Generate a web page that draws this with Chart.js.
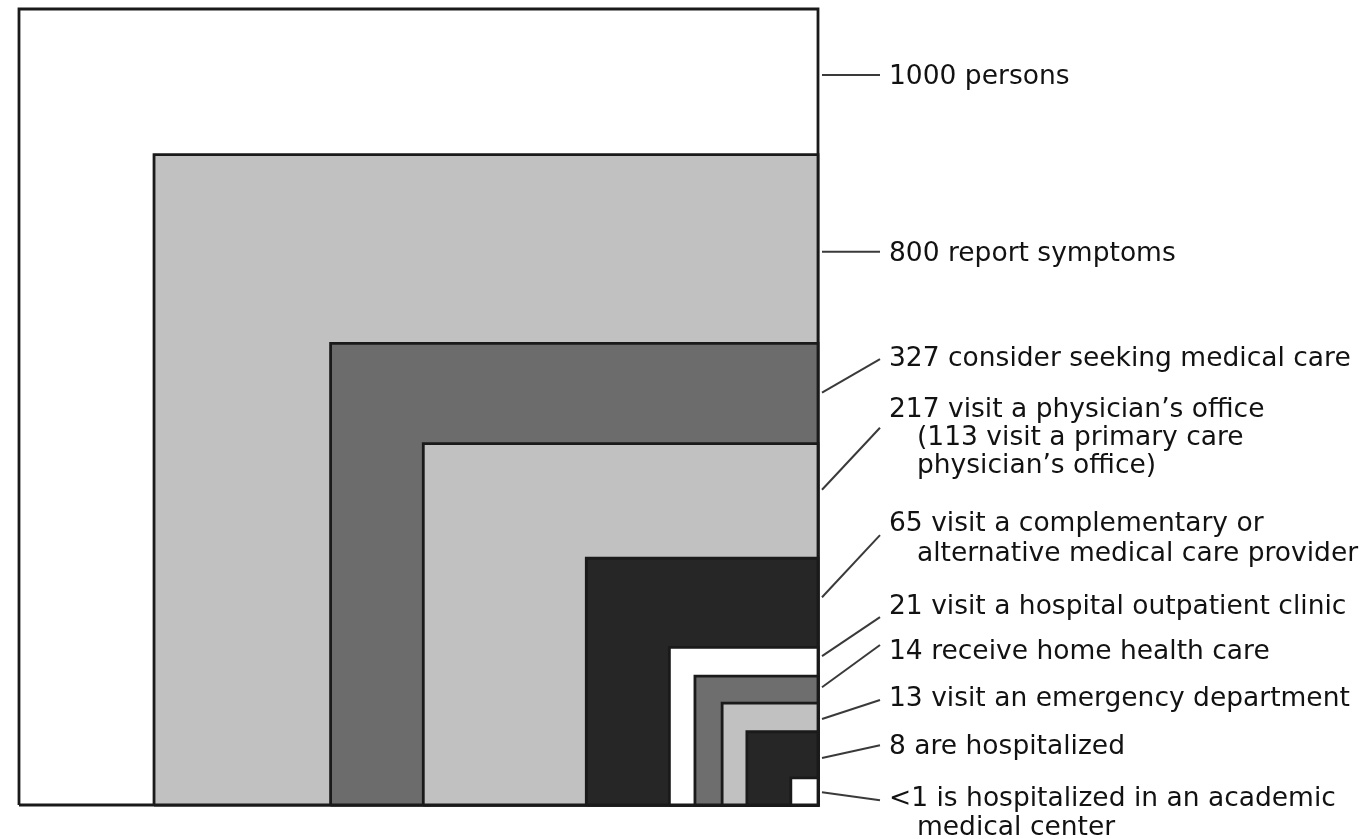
<!DOCTYPE html>
<html>
<head>
<meta charset="utf-8">
<title>Use of health care per 1000 persons</title>
<script src="https://cdn.jsdelivr.net/npm/chart.js@4.4.1/dist/chart.umd.min.js"></script>
<style>
  html, body { margin: 0; padding: 0; background: #fff; }
  canvas { display: block; }
</style>
</head>
<body>
<canvas id="chart" width="1366" height="839"></canvas>
<script>
// persons per 1000 in an average month
const counts = ["1000", "800", "327", "217", "65", "21", "14", "13", "8", "<1"];
const descriptions = [
	["persons"],
	["report symptoms"],
	["consider seeking medical care"],
	["visit a physician’s office", "(113 visit a primary care", "physician’s office)"],
	["visit a complementary or", "alternative medical care provider"],
	["visit a hospital outpatient clinic"],
	["receive home health care"],
	["visit an emergency department"],
	["are hospitalized"],
	["is hospitalized in an academic", "medical center"],
];

// box sizes as drawn, in units of the outer square (0-1000 on both axes)
const boxWidths = [1000, 831, 610, 494, 290, 186, 154, 120, 89, 34];
const boxHeights = [1000, 817, 580, 454, 310, 198, 162, 128, 92, 34];

const boxColors = ["#ffffff", "#c1c1c1", "#6c6c6c", "#c1c1c1", "#262626", "#ffffff", "#6e6e6e", "#c1c1c1", "#262626", "#ffffff"];

// callout layout, on the y scale
const leaderFrom = [917, 695, 518, 396, 261, 187, 148, 108, 59, 16];
const leaderTo = [917, 695, 560, 474, 339, 236, 201, 132, 75, 6];
const labelAt = [906, 683, 552, 488, 344, 240, 183, 124, 64, -1];
const lineGap = [28, 28, 28, 28, 30, 28, 28, 28, 28, 29];

const calloutPlugin = {
	id: "callouts",
	afterDatasetsDraw(chart) {
		const { ctx, scales: { x, y } } = chart;
		const edge = x.getPixelForValue(1000);

		ctx.save();
		ctx.strokeStyle = "#3a3a3a";
		ctx.lineWidth = 2;
		ctx.fillStyle = "#121212";
		ctx.font = "26.5px 'DejaVu Sans'";
		ctx.textBaseline = "alphabetic";

		counts.forEach((count, i) => {
			ctx.beginPath();
			ctx.moveTo(edge + 4, y.getPixelForValue(leaderFrom[i]));
			ctx.lineTo(edge + 62, y.getPixelForValue(leaderTo[i]));
			ctx.stroke();

			const top = y.getPixelForValue(labelAt[i]);
			descriptions[i].forEach((line, j) => {
				const text = j === 0 ? `${count} ${line}` : line;
				ctx.fillText(text, edge + (j === 0 ? 71 : 99), top + j * lineGap[i]);
			});
		});
		ctx.restore();
	},
};

const datasets = counts.map((count, i) => {
	const left = 1000 - boxWidths[i];
	const top = boxHeights[i];
	return {
		label: count,
		data: [
			{ x: left, y: 0 },
			{ x: left, y: top },
			{ x: 1000, y: top },
			{ x: 1000, y: 0 },
			{ x: left, y: 0 },
		],
		showLine: true,
		fill: "shape",
		backgroundColor: boxColors[i],
		borderColor: "#1a1a1a",
		borderWidth: 2.8,
		pointRadius: 0,
		tension: 0,
		clip: false,
		order: counts.length - i,
	};
});

new Chart(document.getElementById("chart"), {
	type: "scatter",
	data: { datasets },
	options: {
		responsive: false,
		animation: false,
		layout: { padding: { left: 19, top: 9, right: 548, bottom: 34 } },
		scales: {
			x: { type: "linear", min: 0, max: 1000, display: false },
			y: { type: "linear", min: 0, max: 1000, display: false },
		},
		plugins: {
			legend: { display: false },
			tooltip: { enabled: false },
		},
	},
	plugins: [calloutPlugin],
});
</script>
</body>
</html>
